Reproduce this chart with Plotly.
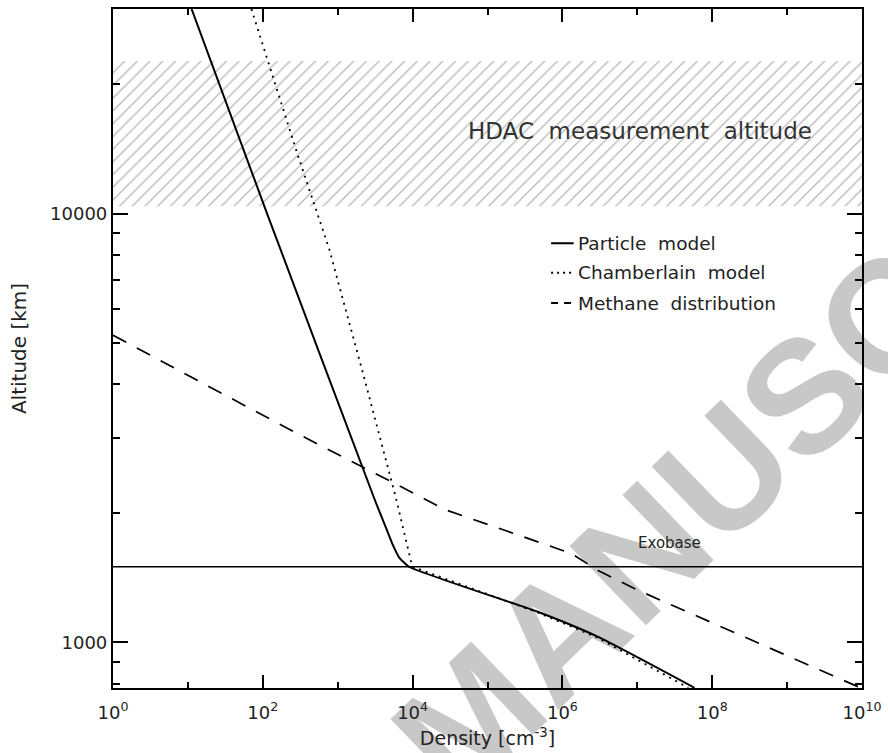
import numpy as np
import plotly.graph_objects as go

# Density profiles [cm^-3] versus altitude [km]
particle_alt = [30000, 10000, 2138, 1853, 1696, 1578, 1500, 1176, 1029, 783]
particle_dens = [11.2, 114, 3160, 4390, 5370, 6590, 8950, 4.78e5, 3.0e6, 5.8e7]

cham_alt = [30000, 13690, 8240, 4180, 2178, 1500, 1176, 1029, 783]
cham_dens = [70.4, 293, 774, 2223, 5960, 9900, 4.5e5, 2.8e6, 4.8e7]

meth_alt = [5200, 3076, 2318, 2037, 1611, 1469, 1322, 780]
meth_dens = [1, 279, 6590, 27500, 1.31e6, 3.0e6, 1.02e7, 1e10]

exobase_alt = 1500
hdac_band = [10400, 22700]

x_range = [1, 1e10]
y_range = [782, 30000]

x_major = [1, 1e2, 1e4, 1e6, 1e8, 1e10]
x_major_text = ["10<sup>0</sup>", "10<sup>2</sup>", "10<sup>4</sup>",
                "10<sup>6</sup>", "10<sup>8</sup>", "10<sup>10</sup>"]
x_minor = [1e1, 1e3, 1e5, 1e7, 1e9]
y_major = [1000, 10000]
y_major_text = ["1000", "10000"]
y_minor = [800, 900, 2000, 3000, 4000, 5000, 6000, 7000, 8000, 9000, 20000]

FONT = "DejaVu Sans"
INK = "#222222"

fig = go.Figure()

# hatched HDAC altitude band across the full density range
fig.add_trace(go.Scatter(
    x=[x_range[0], x_range[1], x_range[1], x_range[0], x_range[0]],
    y=[hdac_band[0], hdac_band[0], hdac_band[1], hdac_band[1], hdac_band[0]],
    mode="lines", fill="toself", line=dict(width=0),
    fillcolor="rgba(0,0,0,0)",
    fillpattern=dict(shape="/", fgcolor="#6e6e6e", bgcolor="rgba(255,255,255,0)",
                     size=9, solidity=0.14),
    hoverinfo="skip", showlegend=False))

# exobase level
fig.add_trace(go.Scatter(
    x=x_range, y=[exobase_alt, exobase_alt], mode="lines",
    line=dict(color="black", width=1.3), showlegend=False, hoverinfo="skip"))

fig.add_trace(go.Scatter(x=meth_dens, y=meth_alt, mode="lines", name="Methane distribution",
                         line=dict(color="black", width=1.7, dash="15px,12px"), showlegend=False))
fig.add_trace(go.Scatter(x=cham_dens, y=cham_alt, mode="lines", name="Chamberlain model",
                         line=dict(color="black", width=1.8, dash="2px,5px"), showlegend=False))
fig.add_trace(go.Scatter(x=particle_dens, y=particle_alt, mode="lines", name="Particle model",
                         line=dict(color="black", width=2, shape="spline", smoothing=0.5),
                         showlegend=False))

# hand-made legend
legend_rows = [("Particle  model", "solid", 0.655),
               ("Chamberlain  model", "2px,4px", 0.6117),
               ("Methane  distribution", "7px,6px", 0.5669)]
shapes = []
annotations = []
for label, dash, yy in legend_rows:
    shapes.append(dict(type="line", xref="paper", yref="paper", x0=0.5849, x1=0.6150,
                       y0=yy, y1=yy, line=dict(color="black", width=2, dash=dash)))
    annotations.append(dict(xref="paper", yref="paper", x=0.6180, y=yy, text=label,
                            showarrow=False, xanchor="left", yanchor="middle",
                            font=dict(family=FONT, size=18.5, color=INK)))

annotations.append(dict(xref="paper", yref="paper", x=0.7032, y=(687.7 - 130) / 680.4,
                        text="HDAC  measurement  altitude", showarrow=False,
                        xanchor="center", yanchor="middle",
                        font=dict(family=FONT, size=23, color="#333333")))
annotations.append(dict(xref="x", yref="y", x=7.435, y=np.log10(1700), text="Exobase",
                        showarrow=False, xanchor="center", yanchor="middle",
                        font=dict(family=FONT, size=15, color=INK)))

# watermark behind the data
shapes.append(dict(type="rect", xref="paper", yref="paper", layer="below",
                   x0=0.9090, x1=0.9091, y0=0.4470, y1=0.4471,
                   line=dict(width=0), fillcolor="rgba(0,0,0,0)",
                   label=dict(text="MANUSCRIPT", textangle=-44, textposition="middle center",
                              font=dict(family="Liberation Sans", size=160,
                                        color="#c8c8c8", weight="bold"))))

axis_common = dict(showgrid=False, zeroline=False, showline=True, linecolor="black",
                   linewidth=2.2, mirror="ticks", ticks="inside", tickcolor="black",
                   tickwidth=2, tickfont=dict(family=FONT, size=18, color=INK))

fig.update_xaxes(type="log", range=[np.log10(x_range[0]), np.log10(x_range[1])],
                 tickmode="array", tickvals=x_major, ticktext=x_major_text, ticklen=13,
                 ticklabelstandoff=7,
                 minor=dict(tickmode="array", tickvals=x_minor, ticklen=6, ticks="inside",
                            tickcolor="black", tickwidth=2),
                 title=dict(text="Density [cm<sup>-3</sup>]", standoff=10,
                            font=dict(family=FONT, size=19, color=INK)),
                 **axis_common)
fig.update_yaxes(type="log", range=[np.log10(y_range[0]), np.log10(y_range[1])],
                 tickmode="array", tickvals=y_major, ticktext=y_major_text, ticklen=15,
                 minor=dict(tickmode="array", tickvals=y_minor, ticklen=7, ticks="inside",
                            tickcolor="black", tickwidth=2),
                 title=dict(text="Altitude [km]", standoff=18,
                            font=dict(family=FONT, size=20, color=INK)),
                 **axis_common)

fig.update_layout(width=888, height=753, autosize=False,
                  margin=dict(l=113, r=23, t=7, b=65),
                  paper_bgcolor="white", plot_bgcolor="rgba(0,0,0,0)",
                  shapes=shapes, annotations=annotations, showlegend=False)

fig.write_html("out.html")
